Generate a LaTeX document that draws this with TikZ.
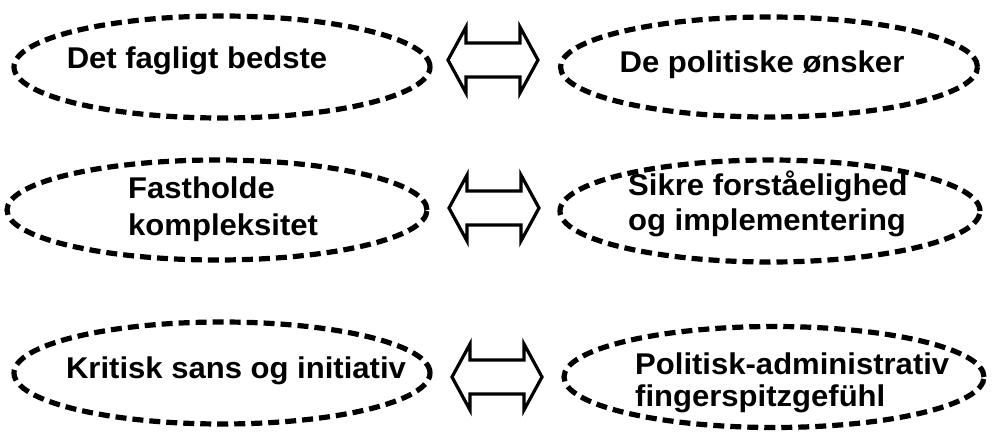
\documentclass[tikz,border=0pt]{standalone}
\usepackage{fontspec}
\setmainfont{Liberation Sans}[FakeStretch=1.035]
\usetikzlibrary{shapes.geometric}
\begin{document}
\begin{tikzpicture}[x=1pt,y=-1pt,
  oval/.style={ellipse, draw=black, line width=5.2pt, dash pattern=on 11pt off 6pt, inner sep=0pt},
  lbl/.style={font=\fontsize{30}{36}\selectfont\bfseries, inner sep=0pt, anchor=base},
  lbll/.style={lbl, anchor=base west},
  dbl/.style={draw=black, line width=3.2pt, line join=miter, fill=white}]
\useasboundingbox (0,0) rectangle (997,447);
\tikzset{pics/dblarrow/.style={code={
  \draw[dbl] (-45,0) -- (-27,-33) -- (-27,-17) -- (27,-17) -- (27,-33) -- (45,0)
     -- (27,33) -- (27,17) -- (-27,17) -- (-27,33) -- cycle;}}}
% row 1
\node[oval, minimum width=416pt, minimum height=102pt] (e1l) at (222,67) {};
\node[oval, minimum width=417pt, minimum height=100pt] (e1r) at (769,67) {};
\node[lbl] (t1l) at (197,68) {Det fagligt bedste};
\node[lbl] (t1r) at (762,72) {De politiske ønsker};
\pic (a1) at (493,60) {dblarrow};
% row 2
\node[oval, minimum width=420pt, minimum height=100pt] (e2l) at (217,210) {};
\node[oval, minimum width=420pt, minimum height=102pt] (e2r) at (770,211) {};
\node[lbll] (t2la) at (128,198) {Fastholde};
\node[lbll] (t2lb) at (128,235) {kompleksitet};
\node[lbll] (t2ra) at (628,195) {Sikre forståelighed};
\node[lbll] (t2rb) at (628,230) {og implementering};
\pic (a2) at (494,208) {dblarrow};
% row 3
\node[oval, minimum width=416pt, minimum height=102pt] (e3l) at (222,373) {};
\node[oval, minimum width=420pt, minimum height=101pt] (e3r) at (774,377) {};
\node[lbl] (t3l) at (236,378) {Kritisk sans og initiativ};
\node[lbll] (t3ra) at (635,374) {Politisk-administrativ};
\node[lbll] (t3rb) at (635,406) {fingerspitzgefühl};
\pic (a3) at (497,377) {dblarrow};
\end{tikzpicture}
\end{document}
